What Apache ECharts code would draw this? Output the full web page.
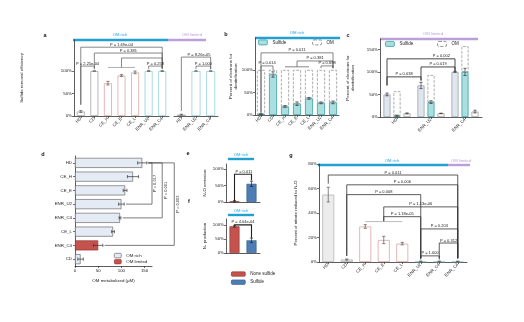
<!DOCTYPE html>
<html>
<head>
<meta charset="utf-8">
<script src="https://cdn.jsdelivr.net/npm/echarts@6/dist/echarts.min.js"></script>
<style>
  html, body { margin: 0; padding: 0; background: #fff; }
  #chart { width: 524px; height: 322px; }
</style>
</head>
<body>
<div id="chart"></div>
<script>
// ---------- data ----------
// a: sulfide removal efficiency (%)
const catsA = ['HD', 'CD', 'CE_H', 'CE_E', 'CE_L', 'ENR_U2', 'ENR_C4'];
const kindA = ['ctrl', 'ctrl', 'ce', 'ce', 'ce', 'enr', 'enr'];
const removalA = [10, 100, 73, 90, 97, 100, 100];
const removalErrA = [2, 0.5, 4, 2, 3, 1, 1];
const catsA2 = ['HD', 'ENR_U2', 'ENR_C4'];
const kindA2 = ['ctrl', 'enr', 'enr'];
const removalA2 = [3, 100, 100];
const removalErrA2 = [1, 0.5, 0.5];

// b: share of electrons for denitrification, OM rich (%)
const catsB = ['HD', 'CD', 'CE_H', 'CE_E', 'CE_L', 'ENR_U2', 'ENR_C4'];
const sulfideB = [2, 90, 19, 25, 37, 27, 28];
const sulfideErrB = [1, 6, 2, 4, 2, 2, 3];
const omB = [98, 10, 81, 75, 63, 73, 72];

// c: share of electrons for denitrification, OM limited (%)
const catsC = ['HD', 'ENR_U2', 'ENR_C4'];
const totalC = [50, 70, 100];
const totalErrC = [3, 7, 1];
const sulfideC = [3, 33, 100];
const sulfideErrC = [1, 3, 8];
const omC = [54, 60, 57];
const otherC = [8, 8, 12];
const otherErrC = [1, 0.5, 3];

// d: OM metabolized (uM)
const catsD = ['HD', 'CE_H', 'CE_E', 'ENR_U2', 'ENR_C4', 'CE_L', 'ENR_C4', 'CD'];
const omRichD = [145, 125, 108, 100, 97, 82, '-', 12];
const omLimitedD = ['-', '-', '-', '-', '-', '-', 50, '-'];
const omMetD = [145, 125, 108, 100, 97, 82, 50, 12];
const omMetErrD = [10, 12, 4, 6, 2, 3, 10, 6];

// e, f: N2O emission and N2 production (%)
const catsEF = ['None sulfide', 'Sulfide'];
const n2oNoneE = [2, '-'];
const n2oSulfE = ['-', 55];
const n2oE = [2, 55];
const n2oErrE = [2, 8];
const n2NoneF = [95, '-'];
const n2SulfF = ['-', 45];
const n2F = [95, 45];
const n2ErrF = [3, 8];

// g: percent of nitrate reduced to N2O
const catsG = ['HD', 'CD', 'CE_H', 'CE_E', 'CE_L', 'ENR_U2', 'ENR_C4', 'ENR_C4'];
const kindG = ['hd', 'ctrl', 'ce', 'ce', 'ce', 'enr', 'enr', 'enr'];
const n2oG = [55, 2, 29, 18, 15, 0.6, 0.6, 0.6];
const n2oErrG = [6, 0.5, 1.5, 3, 1, 0.2, 0.2, 0.2];

// significance brackets: [from, to, level, foot1, foot2, label, textPos, shift1, shift2]
const pA = [
  [0, 6, 153, 25, 106, 'P = 1.69e-04'],
  [1, 6, 140, 106, 106, 'P = 0.381'],
  [3, 6, 129, 108, 106, ''],
  [0, 1, 111, 25, 104, 'P = 2.25e-04'],
  [5, 6, 111, 104, 104, 'P = 0.258']
];
const groupA = [[2, 4, 108, 108, 108]];
const pA2 = [
  [0, 2, 131, 11, 104, 'P = 8.26e-05', 0.6],
  [1, 2, 111, 104, 104, 'P = 1.000']
];
const pB = [
  [0, 6, 138, 5, 104, 'P = 0.011'],
  [3, 6, 120, 107, 104, 'P = 0.381'],
  [0, 1, 109, 5, 100, 'P = 0.014'],
  [5, 6, 109, 104, 104, 'P = 0.698']
];
const groupB = [[2, 4, 107, 107, 107]];
const pC = [
  [0, 2, 129, 70, 101, 'P = 0.002', 0.8],
  [1, 2, 111, 82, 101, 'P = 0.019'],
  [0, 1, 89, 70, 80, 'P = 0.038']
];
const pD = [
  [0, 3, 166, 158, 110, 'P = 0.017'],
  [0, 4, 188, 158, 103, 'P = 0.001'],
  [0, 6, 214, 158, 64, 'P = 0.003']
];
const pE = [[0, 1, 84, 3, 66, 'P = 0.011', 0.55]];
const pF = [[0, 1, 100, 99, 54, 'P = 4.04e-04']];
const pG = [
  [0, 7, 71, 64, 3, 'P = 0.011'],
  [1, 7, 63, 5, 3, 'P = 0.006'],
  [1, 5, 55, 5, 3, 'P = 0.008'],
  [3, 7, 45, 33, 3, 'P = 1.13e-06'],
  [3, 5, 37, 33, 3, 'P = 1.18e-05'],
  [5, 7, 27, 3, 3, 'P = 0.203'],
  [6, 7, 15.5, 3, 3, 'P = 0.312'],
  [5, 6, 5, 2, 2, 'P = 1.000']
];
const groupG = [[2, 4, 33, 33, 33]];

// ---------- styling ----------
const FONT = '"Liberation Sans", Arial, "DejaVu Sans", sans-serif';
const FS = 4.4;
const AXIS = '#333';
const TEAL = '#22a0d2';
const PURPLE = '#bc9edb';
const SULF_FILL = '#aadfe0', SULF_LINE = '#3b9ea3';
const RED = '#c4524d', RED_LINE = '#8d302c';
const BLUE = '#4c7eb5', BLUE_LINE = '#2f5886';
const edge = { ctrl: '#a3a3a3', hd: '#b5b5b5', ce: '#dca6a2', enr: '#93d1d5' };
const fill = { ctrl: '#ffffff', hd: '#ececec', ce: '#ffffff', enr: '#ffffff' };

const pct = v => v + '%';

function catAxis(gridIndex, data, extra) {
  return Object.assign({
    type: 'category', gridIndex, data,
    axisLine: { lineStyle: { color: AXIS, width: 0.8 } },
    axisTick: { show: true, alignWithLabel: true, length: 2, lineStyle: { color: AXIS, width: 0.7 } },
    axisLabel: { fontSize: FS, fontFamily: FONT, color: '#222', rotate: 45, margin: 2, interval: 0, hideOverlap: false },
    splitLine: { show: false }
  }, extra || {});
}

function valAxis(gridIndex, max, ticks, extra) {
  return Object.assign({
    type: 'value', gridIndex, min: 0, max,
    axisLine: { show: true, lineStyle: { color: AXIS, width: 0.8 } },
    axisTick: { show: true, length: 2, customValues: ticks, lineStyle: { color: AXIS, width: 0.7 } },
    axisLabel: {
      fontSize: FS, fontFamily: FONT, color: '#222', margin: 2, customValues: ticks,
      formatter: pct, hideOverlap: false, showMinLabel: true, showMaxLabel: true
    },
    splitLine: { show: false },
    nameTextStyle: { fontSize: FS, fontFamily: FONT, color: '#222', lineHeight: 5 }
  }, extra || {});
}

function coloredBars(vals, kinds, xi, yi, width) {
  return {
    type: 'bar', xAxisIndex: xi, yAxisIndex: yi, barWidth: width, silent: true,
    data: vals.map((v, i) => ({
      value: v,
      itemStyle: { color: fill[kinds[i]], borderColor: edge[kinds[i]], borderWidth: 0.8 }
    }))
  };
}

function errorSeries(vals, errs, xi, yi, horizontal, shift, color) {
  return {
    type: 'custom', xAxisIndex: xi, yAxisIndex: yi, clip: false, silent: true, z: 5,
    encode: horizontal ? { y: 0, x: [1, 2] } : { x: 0, y: [1, 2] },
    data: vals.map((v, i) => [i, v - errs[i], v + errs[i]]),
    renderItem(params, api) {
      const c = api.value(0), lo = api.value(1), hi = api.value(2);
      const at = horizontal ? v => api.coord([v, c]) : v => api.coord([c, v]);
      const p1 = at(lo), p2 = at(hi);
      const cap = 1.6;
      let segs;
      if (horizontal) {
        segs = [[p1, p2], [[p1[0], p1[1] - cap], [p1[0], p1[1] + cap]], [[p2[0], p2[1] - cap], [p2[0], p2[1] + cap]]];
      } else {
        p1[0] += shift; p2[0] += shift;
        segs = [[p1, p2], [[p1[0] - cap, p1[1]], [p1[0] + cap, p1[1]]], [[p2[0] - cap, p2[1]], [p2[0] + cap, p2[1]]]];
      }
      return {
        type: 'group',
        children: segs.map(s => ({
          type: 'line',
          shape: { x1: s[0][0], y1: s[0][1], x2: s[1][0], y2: s[1][1] },
          style: { stroke: color || '#444', lineWidth: 0.7 }
        }))
      };
    }
  };
}

function bracketSeries(list, xi, yi, horizontal, color, width) {
  return {
    type: 'custom', xAxisIndex: xi, yAxisIndex: yi, clip: false, silent: true, z: 6,
    encode: horizontal ? { y: [0, 1], x: [2, 3, 4] } : { x: [0, 1], y: [2, 3, 4] },
    data: list.map(b => b.slice(0, 5)),
    renderItem(params, api) {
      const b = list[params.dataIndex];
      const [c1, c2, level, f1, f2] = b;
      const label = b[5] || '';
      const t = b[6] == null ? 0.5 : b[6];
      const s1 = b[7] || 0, s2 = b[8] || 0;
      const at = horizontal ? (c, v) => api.coord([v, c]) : (c, v) => api.coord([c, v]);
      const A = at(c1, level), B = at(c2, level), A1 = at(c1, f1), B1 = at(c2, f2);
      if (!horizontal) { A[0] += s1; A1[0] += s1; B[0] += s2; B1[0] += s2; }
      const children = [{
        type: 'polyline', shape: { points: [A1, A, B, B1] },
        style: { stroke: color, lineWidth: width, fill: null }
      }];
      if (label) {
        if (horizontal) {
          children.push({
            type: 'text', x: A[0] + 1.2, y: A[1] + (B[1] - A[1]) * t, rotation: Math.PI / 2,
            style: { text: label, fontSize: 4, fontFamily: FONT, fill: '#222', align: 'center', verticalAlign: 'top' }
          });
        } else {
          children.push({
            type: 'text', x: A[0] + (B[0] - A[0]) * t, y: A[1] - 0.6,
            style: { text: label, fontSize: 4, fontFamily: FONT, fill: '#222', align: 'center', verticalAlign: 'bottom' }
          });
        }
      }
      return { type: 'group', children };
    }
  };
}

// group banners above panels and panel letters
function band(x0, x1, y, color) {
  return { type: 'rect', shape: { x: x0, y: y - 1.2, width: x1 - x0, height: 2.4 }, style: { fill: color }, silent: true };
}
function bandText(x, y, text, color) {
  return { type: 'text', x, y, style: { text, fontSize: 4.2, fontFamily: FONT, fill: color, align: 'center', verticalAlign: 'middle' }, silent: true };
}
function letter(ch, x, y) {
  return { type: 'text', x, y, style: { text: ch, fontSize: 5.5, fontWeight: 'bold', fontFamily: FONT, fill: '#111', align: 'center', verticalAlign: 'middle' }, silent: true };
}

const legendBase = {
  padding: 0, selectedMode: false, itemWidth: 9, itemHeight: 5,
  textStyle: { fontSize: 4.5, fontFamily: FONT, color: '#222' }
};
const sulfLegend = { name: 'Sulfide', itemStyle: { color: SULF_FILL, borderColor: SULF_LINE, borderWidth: 0.8 } };
const omLegend = { name: 'OM', itemStyle: { color: '#fff', borderColor: '#777', borderWidth: 0.8, borderType: 'dashed' } };

const option = {
  animation: false,
  textStyle: { fontFamily: FONT },
  grid: [
    { left: 74, top: 40, width: 95, height: 76, outerBoundsMode: 'none' },
    { left: 174, top: 40, width: 44, height: 76, outerBoundsMode: 'none' },
    { left: 255, top: 38, width: 84, height: 77, outerBoundsMode: 'none' },
    { left: 380, top: 39, width: 102, height: 78, outerBoundsMode: 'none' },
    { left: 75, top: 156, width: 77, height: 110, outerBoundsMode: 'none' },
    { left: 226, top: 164, width: 34, height: 38, outerBoundsMode: 'none' },
    { left: 226, top: 219, width: 34, height: 34, outerBoundsMode: 'none' },
    { left: 319, top: 164, width: 148, height: 98, outerBoundsMode: 'none' }
  ],
  xAxis: [
    catAxis(0, catsA),
    catAxis(1, catsA2),
    catAxis(2, catsB),
    catAxis(3, catsC),
    valAxis(4, 166, [0, 50, 100, 150], {
      axisLabel: { fontSize: FS, fontFamily: FONT, color: '#222', margin: 3, customValues: [0, 50, 100, 150], hideOverlap: false },
      name: 'OM metabolized (μM)', nameLocation: 'middle', nameGap: 12
    }),
    catAxis(5, catsEF, { axisLabel: { show: false }, axisTick: { show: false } }),
    catAxis(6, catsEF, { axisLabel: { show: false }, axisTick: { show: false } }),
    catAxis(7, catsG)
  ],
  yAxis: [
    valAxis(0, 169, [0, 50, 100], { name: 'Sulfide removal efficiency', nameLocation: 'middle', nameRotate: 90, nameGap: 50 }),
    valAxis(1, 169, [0, 50, 100], { show: false }),
    valAxis(2, 171, [0, 50, 100], { name: 'Percent of electrons for\ndenitrification', nameLocation: 'middle', nameRotate: 90, nameGap: 14 }),
    valAxis(3, 173, [0, 50, 100, 150], { name: 'Percent of electrons for\ndenitrification', nameLocation: 'middle', nameRotate: 90, nameGap: 25 }),
    {
      type: 'category', gridIndex: 4, data: catsD, inverse: true,
      axisLine: { lineStyle: { color: AXIS, width: 0.8 } },
      axisTick: { show: true, alignWithLabel: true, length: 2, lineStyle: { color: AXIS, width: 0.7 } },
      axisLabel: { fontSize: FS, fontFamily: FONT, color: '#222', margin: 3, interval: 0, hideOverlap: false }
    },
    valAxis(5, 115, [0, 50, 100], { name: 'N₂O emission', nameLocation: 'middle', nameRotate: 90, nameGap: 19 }),
    valAxis(6, 121, [0, 50, 100], { name: 'N₂ production', nameLocation: 'middle', nameRotate: 90, nameGap: 19 }),
    valAxis(7, 80, [0, 20, 40, 60, 80], { name: 'Percent of nitrate reduced to N₂O', nameLocation: 'middle', nameRotate: 90, nameGap: 21 })
  ],
  legend: [
    Object.assign({}, legendBase, { left: 258, top: 39.5, itemGap: 26, data: [sulfLegend, omLegend] }),
    Object.assign({}, legendBase, { left: 385, top: 41, itemGap: 24, data: [sulfLegend, omLegend] }),
    Object.assign({}, legendBase, {
      left: 114, top: 253, orient: 'vertical', itemGap: 1, itemWidth: 7, itemHeight: 4.5,
      textStyle: { fontSize: FS, fontFamily: FONT, color: '#222' },
      data: [
        { name: 'OM rich', itemStyle: { color: '#e4ebf4', borderColor: '#555', borderWidth: 0.6 } },
        { name: 'OM limited', itemStyle: { color: RED, borderColor: RED_LINE, borderWidth: 0.6 } }
      ]
    }),
    Object.assign({}, legendBase, {
      left: 231, top: 271.5, orient: 'vertical', itemGap: 3, itemWidth: 14, itemHeight: 4.5,
      data: [
        { name: 'None sulfide', itemStyle: { color: RED, borderColor: RED_LINE, borderWidth: 0.6 } },
        { name: 'Sulfide', itemStyle: { color: BLUE, borderColor: BLUE_LINE, borderWidth: 0.6, borderType: 'solid' } }
      ]
    })
  ],
  series: [
    // b
    {
      type: 'bar', name: 'Sulfide', xAxisIndex: 2, yAxisIndex: 2, stack: 'b', barWidth: 8, silent: true,
      itemStyle: { color: SULF_FILL, borderColor: SULF_LINE, borderWidth: 0.8 }, data: sulfideB
    },
    {
      type: 'bar', name: 'OM', xAxisIndex: 2, yAxisIndex: 2, stack: 'b', barWidth: 8, silent: true,
      itemStyle: { color: 'rgba(255,255,255,0)', borderColor: '#8a8a8a', borderWidth: 0.7, borderType: 'dashed' }, data: omB
    },
    errorSeries(sulfideB, sulfideErrB, 2, 2, false, 0, '#333'),
    bracketSeries(pB, 2, 2, false, '#555', 0.7),
    bracketSeries(groupB, 2, 2, false, '#555', 0.7),

    // a
    coloredBars(removalA, kindA, 0, 0, 8),
    errorSeries(removalA, removalErrA, 0, 0, false, 0, '#555'),
    bracketSeries(pA, 0, 0, false, '#555', 0.7),
    bracketSeries(groupA, 0, 0, false, '#777', 0.6),
    coloredBars(removalA2, kindA2, 1, 1, 9),
    errorSeries(removalA2, removalErrA2, 1, 1, false, 0, '#555'),
    bracketSeries(pA2, 1, 1, false, '#555', 0.7),

    // c
    {
      type: 'bar', name: 'Total', xAxisIndex: 3, yAxisIndex: 3, barWidth: 7, barGap: '43%', silent: true,
      itemStyle: { color: '#e0e6ef', borderColor: '#8e98a8', borderWidth: 0.7 }, data: totalC
    },
    {
      type: 'bar', name: 'Sulfide', xAxisIndex: 3, yAxisIndex: 3, stack: 'c', barWidth: 7, barGap: '43%', silent: true,
      itemStyle: { color: SULF_FILL, borderColor: SULF_LINE, borderWidth: 0.8 }, data: sulfideC
    },
    {
      type: 'bar', name: 'OM', xAxisIndex: 3, yAxisIndex: 3, stack: 'c', barWidth: 7, barGap: '43%', silent: true,
      itemStyle: { color: 'rgba(255,255,255,0)', borderColor: '#8a8a8a', borderWidth: 0.7, borderType: 'dashed' }, data: omC
    },
    {
      type: 'bar', name: 'Other', xAxisIndex: 3, yAxisIndex: 3, barWidth: 7, barGap: '43%', silent: true,
      itemStyle: { color: '#ffffff', borderColor: '#8e8e8e', borderWidth: 0.7 }, data: otherC
    },
    errorSeries(totalC, totalErrC, 3, 3, false, -10, '#333'),
    errorSeries(sulfideC, sulfideErrC, 3, 3, false, 0, '#333'),
    errorSeries(otherC, otherErrC, 3, 3, false, 10, '#333'),
    bracketSeries(pC.map(b => [b[0], b[1], b[2], b[3], b[4], b[5], b[6], -10, -10]), 3, 3, false, '#333', 0.9),

    // d
    {
      type: 'bar', name: 'OM rich', xAxisIndex: 4, yAxisIndex: 4, barWidth: 10, barGap: '-100%', silent: true,
      itemStyle: { color: '#e4ebf4', borderColor: '#555', borderWidth: 0.6 }, data: omRichD
    },
    {
      type: 'bar', name: 'OM limited', xAxisIndex: 4, yAxisIndex: 4, barWidth: 10, barGap: '-100%', silent: true,
      itemStyle: { color: RED, borderColor: RED_LINE, borderWidth: 0.6 }, data: omLimitedD
    },
    errorSeries(omMetD, omMetErrD, 4, 4, true, 0, '#333'),
    bracketSeries(pD, 4, 4, true, '#444', 0.7),

    // e
    {
      type: 'bar', name: 'None sulfide', xAxisIndex: 5, yAxisIndex: 5, barWidth: 10, barGap: '-100%', silent: true,
      itemStyle: { color: RED, borderColor: RED_LINE, borderWidth: 0.6 }, data: n2oNoneE
    },
    {
      type: 'bar', name: 'Sulfide', xAxisIndex: 5, yAxisIndex: 5, barWidth: 10, barGap: '-100%', silent: true,
      itemStyle: { color: BLUE, borderColor: BLUE_LINE, borderWidth: 0.6 }, data: n2oSulfE
    },
    errorSeries(n2oE, n2oErrE, 5, 5, false, 0, '#222'),
    bracketSeries(pE, 5, 5, false, '#222', 1.1),

    // f
    {
      type: 'bar', name: 'None sulfide', xAxisIndex: 6, yAxisIndex: 6, barWidth: 10, barGap: '-100%', silent: true,
      itemStyle: { color: RED, borderColor: RED_LINE, borderWidth: 0.6 }, data: n2NoneF
    },
    {
      type: 'bar', name: 'Sulfide', xAxisIndex: 6, yAxisIndex: 6, barWidth: 10, barGap: '-100%', silent: true,
      itemStyle: { color: BLUE, borderColor: BLUE_LINE, borderWidth: 0.6 }, data: n2SulfF
    },
    errorSeries(n2F, n2ErrF, 6, 6, false, 0, '#222'),
    bracketSeries(pF, 6, 6, false, '#222', 1.1),

    // g
    coloredBars(n2oG, kindG, 7, 7, 12),
    errorSeries(n2oG, n2oErrG, 7, 7, false, 0, '#555'),
    bracketSeries(pG, 7, 7, false, '#333', 0.8),
    bracketSeries(groupG, 7, 7, false, '#aaa', 0.8)
  ],
  graphic: [
    letter('a', 45, 35), letter('b', 226, 34), letter('c', 348, 35),
    letter('d', 43, 154), letter('e', 188, 153), letter('f', 189, 201), letter('g', 291, 155),
    band(73, 168, 40, TEAL), band(168, 206, 40, PURPLE),
    bandText(120, 35, 'OM rich', TEAL), bandText(192, 35, 'OM limited', PURPLE),
    band(255, 340, 38, TEAL), bandText(297, 33, 'OM rich', TEAL),
    band(380, 478, 39, PURPLE), bandText(433, 34, 'OM limited', PURPLE),
    band(228, 254, 159, TEAL), bandText(241, 155, 'OM rich', TEAL),
    band(228, 254, 215, TEAL), bandText(241, 211, 'OM rich', TEAL),
    band(318, 448, 165, TEAL), band(448, 470, 165, PURPLE),
    bandText(392, 161, 'OM rich', TEAL), bandText(461, 161, 'OM limited', PURPLE)
  ]
};

const chart = echarts.init(document.getElementById('chart'), null, { renderer: 'canvas' });
chart.setOption(option);
</script>
</body>
</html>
